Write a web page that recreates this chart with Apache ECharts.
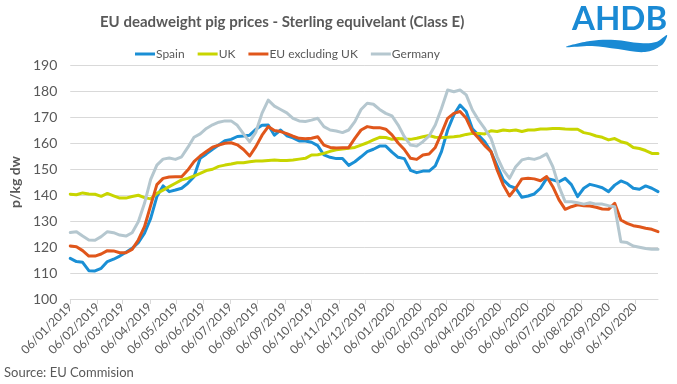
<!DOCTYPE html>
<html>
<head>
<meta charset="utf-8">
<script src="https://cdn.jsdelivr.net/npm/echarts@6/dist/echarts.min.js"></script>
<style>html,body{margin:0;padding:0;background:#fff}#c{width:677px;height:384px}</style>
</head>
<body>
<div id="c"></div>
<script>
const weeks = [
 '2019-01-06','2019-01-13','2019-01-20','2019-01-27','2019-02-03','2019-02-10','2019-02-17','2019-02-24',
 '2019-03-03','2019-03-10','2019-03-17','2019-03-24','2019-03-31','2019-04-07','2019-04-14','2019-04-21','2019-04-28',
 '2019-05-05','2019-05-12','2019-05-19','2019-05-26','2019-06-02','2019-06-09','2019-06-16','2019-06-23','2019-06-30',
 '2019-07-07','2019-07-14','2019-07-21','2019-07-28','2019-08-04','2019-08-11','2019-08-18','2019-08-25',
 '2019-09-01','2019-09-08','2019-09-15','2019-09-22','2019-09-29','2019-10-06','2019-10-13','2019-10-20','2019-10-27',
 '2019-11-03','2019-11-10','2019-11-17','2019-11-24','2019-12-01','2019-12-08','2019-12-15','2019-12-22','2019-12-29',
 '2020-01-05','2020-01-12','2020-01-19','2020-01-26','2020-02-02','2020-02-09','2020-02-16','2020-02-23',
 '2020-03-01','2020-03-08','2020-03-15','2020-03-22','2020-03-29','2020-04-05','2020-04-12','2020-04-19','2020-04-26',
 '2020-05-03','2020-05-10','2020-05-17','2020-05-24','2020-05-31','2020-06-07','2020-06-14','2020-06-21','2020-06-28',
 '2020-07-05','2020-07-12','2020-07-19','2020-07-26','2020-08-02','2020-08-09','2020-08-16','2020-08-23','2020-08-30',
 '2020-09-06','2020-09-13','2020-09-20','2020-09-27','2020-10-04','2020-10-11','2020-10-18','2020-10-25','2020-11-01'
];
const spain = [115.6,114.4,114.1,110.9,110.8,111.8,114.4,115.3,116.5,118,119.5,121.7,125.3,131,139.4,143.5,141.3,141.9,142.6,144.5,147,154.1,155.8,157.6,159.2,160.9,161.4,162.5,162.7,163,165.3,166.8,166.9,163,165,162.8,162,160.8,160.8,160.3,159,155.4,154.5,154,154,151.4,152.8,154.7,156.7,157.6,158.8,158.8,156.5,154.5,154,149.5,148.6,149.2,149.2,151.2,156.7,165,170.8,174.6,172.1,165.5,163,160.5,156.7,151.2,145.8,143.5,142.6,139.1,139.6,140.4,142.6,146.4,145.8,145.1,146.4,144,139.4,142.6,144.1,143.5,142.8,141.3,143.8,145.4,144.5,142.6,142.2,143.5,142.6,141.3];
const uk = [140.3,140.1,140.8,140.4,140.3,139.5,140.6,139.7,138.8,138.8,139.4,139.9,139,138.5,140.6,141.9,143.2,144.5,145.8,146.4,147.3,148.3,149.4,149.9,151,151.5,151.9,152.4,152.4,152.8,153.1,153.1,153.3,153.5,153.3,153.3,153.5,153.8,154.1,155.4,155.5,156,156.8,157.4,157.7,158,158.3,159.2,160.1,161.2,162.2,162.1,161.4,161.7,161.5,161.4,161.8,162.4,162.9,162.2,162.1,162.2,162.4,162.7,163.3,163.7,163.7,163.5,164.7,164.4,165,164.7,165,164.4,165,165,165.4,165.4,165.6,165.6,165.4,165.3,165.3,164,163.5,162.7,162.2,161.2,161.7,160.5,159.9,158.3,157.9,157.1,156,156];
const euExUk = [120.4,120.1,118.6,116.5,116.5,117.3,118.6,118.5,117.8,117.8,119.1,122.7,127.8,136,144,146.4,146.9,147,147,149.6,152.8,155,156.7,158.4,159.2,159.9,160.1,159.3,157.5,155,158.6,163,166.3,164.8,164.4,163.6,162.6,161.8,161.6,161.8,162.4,159.2,158.3,158.1,158.2,158.2,161.8,165,166.3,165.9,165.9,165.3,163.1,160,157.5,154.1,153.7,155.4,155.8,158.3,163.7,169.5,171.4,172.1,169.5,164.4,161.8,159,156.7,149.6,143.8,139.6,142.6,146.2,146.4,146.2,145.5,147.1,143.2,138.1,134.5,135.5,136.2,135.9,135.8,135.3,134.6,134.5,136.8,130.4,129.1,128.2,127.8,127.2,126.8,125.9];
const germany = [125.6,125.9,124.2,122.7,122.6,124,125.9,125.5,124.6,124.2,125.5,129.7,136.8,146,151.5,153.8,154.2,153.7,154.7,158.3,162.2,163.5,165.6,167,168,168.5,168.5,166.8,163.5,160.5,164.2,171.5,176.5,174.2,172.9,171.6,169.5,168.5,168.3,168.8,169.5,166.3,165,164.6,164,165,168.2,172.9,175.3,174.9,172.9,171.4,170.4,166.9,162.4,159.2,158.8,160.5,162.7,166.9,173.3,180.4,179.7,180.4,178.5,172.7,168.8,165.5,161.8,154.7,149.6,146.4,150.9,153.5,154.1,153.7,154.5,155.8,150.9,143.2,137.4,137.4,137,136.5,137,136.5,136.5,135.9,135.5,122,121.7,120.4,119.9,119.4,119.1,119.1];
const tickDates = ['2019-01-06','2019-02-06','2019-03-06','2019-04-06','2019-05-06','2019-06-06','2019-07-06','2019-08-06','2019-09-06','2019-10-06','2019-11-06','2019-12-06','2020-01-06','2020-02-06','2020-03-06','2020-04-06','2020-05-06','2020-06-06','2020-07-06','2020-08-06','2020-09-06','2020-10-06'];
const yTicks = [100,110,120,130,140,150,160,170,180,190];

const DAY = 86400000;
const ts = s => { const p = s.split('-'); return Date.UTC(+p[0], +p[1]-1, +p[2]); };
const t0 = ts(weeks[0]);
const dayNum = s => Math.round((ts(s) - t0) / DAY);
const pair = arr => weeks.map((d,i) => [dayNum(d), arr[i]]);
const pad = n => (n<10?'0':'')+n;
const fmt = v => { const d = new Date(t0 + Math.round(v)*DAY); return pad(d.getUTCDate())+'/'+pad(d.getUTCMonth()+1)+'/'+d.getUTCFullYear(); };
const txt = '#595959';
const font = 'Lato, "Open Sans", sans-serif';
const tickVals = tickDates.map(dayNum);

const chart = echarts.init(document.getElementById('c'), null, {renderer:'canvas'});
const mk = (name, arr, color) => ({
  name, type:'line', data: pair(arr), showSymbol:false, symbol:'none',
  lineStyle:{width:3, color, cap:'round', join:'round'}, itemStyle:{color}, animation:false
});
chart.setOption({
  animation:false,
  textStyle:{fontFamily:font},
  title:{text:'EU deadweight pig prices - Sterling equivelant (Class E)', left:95, top:10,
    textStyle:{fontFamily:font, fontWeight:'bold', fontSize:15, color:txt}},
  legend:{top:43, left:130, itemWidth:20, itemHeight:3, itemGap:13, icon:'rect',
    textStyle:{fontFamily:font, fontSize:12, color:txt, padding:[0,0,0,-4]},
    data:['Spain','UK','EU excluding UK','Germany']},
  grid:{left:62, right:19, top:65, bottom:85},
  xAxis:{type:'value', min:0, max:dayNum(weeks[weeks.length-1]),
    axisLine:{lineStyle:{color:'#d9d9d9'}},
    axisTick:{show:true, length:5, lineStyle:{color:'#d9d9d9'}, customValues: tickVals},
    axisLabel:{rotate:45, fontSize:12, color:txt, fontFamily:font, margin:6,
      customValues: tickVals, formatter: v => fmt(v)},
    splitLine:{show:false}},
  yAxis:{type:'value', min:yTicks[0], max:yTicks[yTicks.length-1], interval:10,
    name:'p/kg dw', nameLocation:'middle', nameGap:40,
    nameTextStyle:{fontFamily:font, fontWeight:'bold', fontSize:14, color:txt},
    axisLine:{show:false}, axisTick:{show:false},
    axisLabel:{fontSize:14, color:txt, fontFamily:font, margin:13},
    splitLine:{lineStyle:{color:'#d9d9d9'}}},
  graphic:[
    {type:'text', left:4, top:366, style:{text:'Source: EU Commision', font:'13px '+font, fill:txt}},
    {type:'text', left:572, top:3, style:{text:'AHDB', font:'bold 33px '+font, fill:'#1a8ad4'}},
    {type:'polygon', shape:{points:[[566,47],[590,41],[615,40],[640,43],[656,42],[667,35],[662,45],[645,52],[618,49],[592,46]], smooth:0.35},
      style:{fill:'#1a8ad4'}}
  ],
  series:[
    mk('Spain', spain, '#1a8fd5'),
    mk('UK', uk, '#c8d500'),
    mk('EU excluding UK', euExUk, '#e0561b'),
    mk('Germany', germany, '#b5c7cf')
  ]
});
</script>
</body>
</html>
